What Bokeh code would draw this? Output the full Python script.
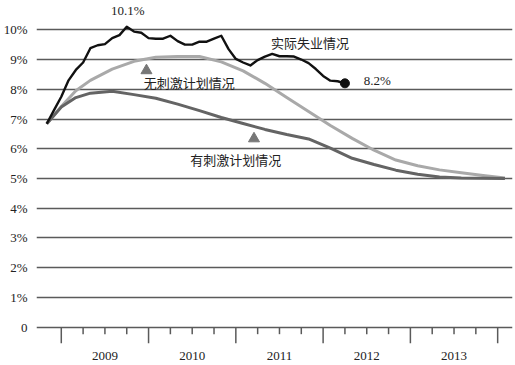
from bokeh.plotting import figure
from bokeh.models import Range1d, FixedTicker
from bokeh.core.properties import value
from bokeh.embed import file_html
from bokeh.resources import INLINE

# ---- data (months counted from Jan 2009 = 0) ----
actual_month = list(range(-2, 40))
actual_rate = [6.84, 7.3, 7.75, 8.3, 8.65, 8.9, 9.38, 9.48, 9.52, 9.72, 9.82, 10.1,
               9.94, 9.9, 9.72, 9.7, 9.7, 9.8, 9.62, 9.5, 9.5, 9.6, 9.6, 9.7,
               9.8, 9.35, 9.02, 8.9, 8.8, 8.98, 9.1, 9.19, 9.11, 9.11, 9.1, 9.0,
               8.88, 8.68, 8.45, 8.29, 8.27, 8.2]

proj_month = [-2, 0, 2, 4, 7, 10, 13, 16, 19, 22, 25, 28, 31, 34, 37, 40, 43, 46, 49, 52, 55, 58, 61]
no_stimulus = [6.84, 7.42, 7.95, 8.3, 8.68, 8.94, 9.08, 9.1, 9.1, 8.92, 8.62, 8.2,
               7.72, 7.25, 6.78, 6.35, 5.95, 5.62, 5.43, 5.29, 5.19, 5.1, 5.02]
with_stimulus = [6.84, 7.4, 7.72, 7.87, 7.93, 7.82, 7.7, 7.5, 7.28, 7.05, 6.85, 6.65,
                 6.48, 6.33, 6.02, 5.68, 5.47, 5.28, 5.14, 5.05, 5.02, 5.01, 5.0]

years = [2009, 2010, 2011, 2012, 2013, 2014]
year_labels = ["2009", "2010", "2011", "2012", "2013"]
y_ticks = [0, 1, 2, 3, 4, 5, 6, 7, 8, 9, 10]
y_labels = ["0", "1%", "2%", "3%", "4%", "5%", "6%", "7%", "8%", "9%", "10%"]

BASE_YEAR = 2009
def to_t(months):
    return [BASE_YEAR + m / 12.0 for m in months]

SERIF = "Liberation Serif"
CJK = "Noto Sans CJK SC"
GRID = "#5a5a5a"
TXT = "#222222"

# style constants (in data units of the y scale)
MAJOR_TICK = 0.54
MINOR_TICK = 0.235
YEAR_LABEL_Y = -0.97

p = figure(width=515, height=365, output_backend="svg", toolbar_location=None,
           x_range=Range1d(2008.716, 2014.17), y_range=Range1d(-1.288, 10.985),
           x_axis_location=None,
           min_border_left=0, min_border_right=3, min_border_top=0, min_border_bottom=0)
p.outline_line_color = None
p.background_fill_color = "white"
p.border_fill_color = "white"

# y axis
p.yaxis.ticker = FixedTicker(ticks=y_ticks)
p.yaxis.major_label_overrides = {t: l for t, l in zip(y_ticks, y_labels)}
p.yaxis.axis_line_color = None
p.yaxis.major_tick_line_color = None
p.yaxis.major_tick_out = 0
p.yaxis.major_tick_in = 0
p.yaxis.minor_tick_line_color = None
p.yaxis.minor_tick_out = 0
p.yaxis.minor_tick_in = 0
p.yaxis.major_label_standoff = 9
p.yaxis.major_label_text_font = SERIF
p.yaxis.major_label_text_font_size = "13px"
p.yaxis.major_label_text_color = TXT
p.ygrid.ticker = FixedTicker(ticks=y_ticks)
p.ygrid.grid_line_color = GRID
p.ygrid.grid_line_width = 1.4
p.xgrid.grid_line_color = None

# time axis ticks (years long, quarters short) below the zero line
quarters = [y + q for y in years[:-1] for q in (0.25, 0.5, 0.75)]
p.segment(x0=years, y0=[0] * len(years), x1=years, y1=[-MAJOR_TICK] * len(years),
          line_color=GRID, line_width=1.5)
p.segment(x0=quarters, y0=[0] * len(quarters), x1=quarters, y1=[-MINOR_TICK] * len(quarters),
          line_color=GRID, line_width=1.5)
mid_years = [y + 0.5 for y in years[:-1]]
p.text(mid_years, [YEAR_LABEL_Y] * len(mid_years), text=year_labels, text_font=value(SERIF),
       text_font_size="13px", text_align="center", text_baseline="middle", text_color=TXT)

# lines
p.line(to_t(proj_month), no_stimulus, line_color="#a9a9a9", line_width=3, line_join="round")
p.line(to_t(proj_month), with_stimulus, line_color="#646464", line_width=3, line_join="round")
p.line(to_t(actual_month), actual_rate, line_color="#111111", line_width=2.4, line_join="round")
p.scatter([to_t(actual_month)[-1]], [actual_rate[-1]], size=9, color="#111111")

# annotations
peak_i = actual_rate.index(max(actual_rate))
p.text([2009.761], [10.65], text=["%.1f%%" % actual_rate[peak_i]], text_font=value(SERIF),
       text_font_size="13px", text_align="center", text_baseline="middle", text_color=TXT)
p.text([2012.62], [8.29], text=["%.1f%%" % actual_rate[-1]], text_font=value(SERIF),
       text_font_size="13px", text_align="center", text_baseline="middle", text_color=TXT)
p.text([2011.851], [9.57], text=["实际失业情况"], text_font=value(CJK),
       text_font_size="13px", text_align="center", text_baseline="middle", text_color=TXT)
p.text([2010.467], [8.24], text=["无刺激计划情况"], text_font=value(CJK),
       text_font_size="13px", text_align="center", text_baseline="middle", text_color=TXT)
p.text([2011.0], [5.64], text=["有刺激计划情况"], text_font=value(CJK),
       text_font_size="13px", text_align="center", text_baseline="middle", text_color=TXT)
p.scatter([2009.976, 2011.208], [8.63, 6.34], marker="triangle", size=11, color="#777777")

open("out.html", "w").write(file_html(p, INLINE))
